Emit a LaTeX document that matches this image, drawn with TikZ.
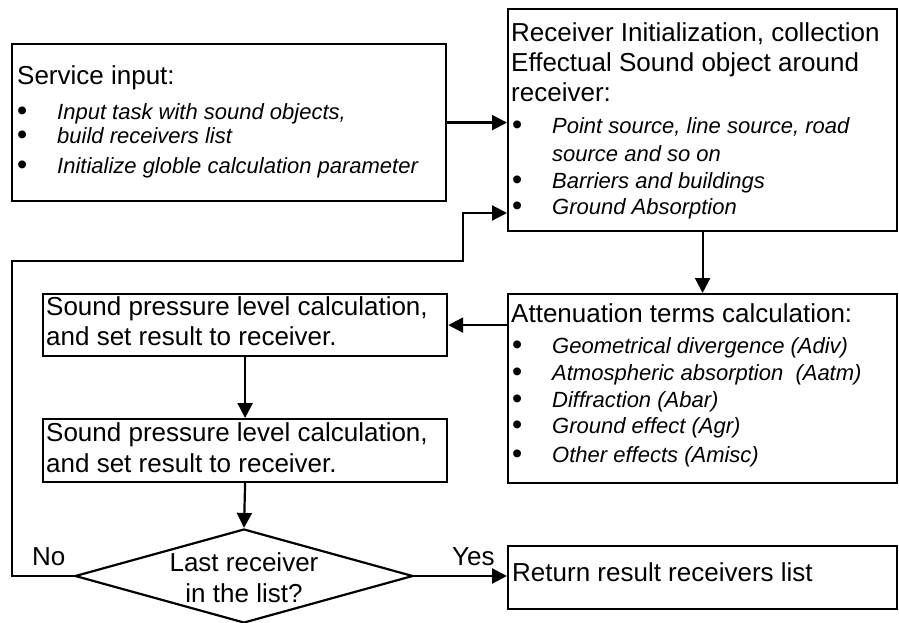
\documentclass[tikz,border=0pt]{standalone}
\usepackage{fontspec}
\setmainfont{Liberation Sans}
\usetikzlibrary{arrows.meta,shapes.geometric}

% bullet followed by a hanging indent for the item text
\newcommand\bul{\makebox[40pt][l]{\upshape\fontsize{29}{29}\selectfont\smash{\raisebox{-1pt}{\textbullet}}}}

\tikzset{
  box/.style={draw, line width=2.2pt, inner sep=0pt, anchor=north west},
  hd/.style={anchor=base west, inner sep=0pt, font=\fontsize{26}{30}\selectfont},
  it/.style={anchor=base west, inner sep=0pt, font=\fontsize{22}{26}\selectfont\itshape},
  lbl/.style={anchor=base west, inner sep=0pt, font=\fontsize{26}{30}\selectfont},
  decision/.style={diamond, draw, line width=2.2pt, inner sep=0pt,
    shape aspect=3.6, minimum width=338pt, minimum height=94pt},
  dtext/.style={anchor=base, inner sep=0pt, font=\fontsize{26}{30}\selectfont},
  arr/.style={line width=2.2pt, -{Triangle[length=15pt,width=15pt]}},
}

\begin{document}
\begin{tikzpicture}[x=1pt, y=-1pt]
\useasboundingbox (0,0) rectangle (899,623);

% ---- boxes ----
\node[box, minimum width=434pt, minimum height=157pt] (svc) at (11,43) {};
\node[box, minimum width=389pt, minimum height=222pt] (rcv) at (507,8) {};
\node[box, minimum width=389pt, minimum height=189pt] (att) at (507,293) {};
\node[box, minimum width=404pt, minimum height=62pt] (spl1) at (42,293) {};
\node[box, minimum width=404pt, minimum height=63pt] (spl2) at (42,418) {};
\node[box, minimum width=389pt, minimum height=63pt] (ret) at (507,545) {};
\node[decision] (dia) at (244,576) {};

% ---- service input ----
\node[hd] (svc-t) at (17,85) {Service input:};
\node[it] (svc-a) at (17,120) {\bul Input task with sound objects,};
\node[it] (svc-b) at (17,143) {\bul build receivers list};
\node[it] (svc-c) at (17,173) {\bul Initialize globle calculation parameter};

% ---- receiver initialization ----
\node[hd] (rcv-t1) at (511,42) {Receiver Initialization, collection};
\node[hd] (rcv-t2) at (511,72) {Effectual Sound object around};
\node[hd] (rcv-t3) at (511,102) {receiver:};
\node[it] (rcv-a) at (512,134) {\bul Point source, line source, road};
\node[it] (rcv-a2) at (552,161) {source and so on};
\node[it] (rcv-b) at (512,188) {\bul Barriers and buildings};
\node[it] (rcv-c) at (512,214) {\bul Ground Absorption};

% ---- attenuation terms ----
\node[hd] (att-t) at (511,322) {Attenuation terms calculation:};
\node[it] (att-a) at (512,353) {\bul Geometrical divergence (Adiv)};
\node[it] (att-b) at (512,380) {\bul Atmospheric absorption\ \ (Aatm)};
\node[it] (att-c) at (512,407) {\bul Diffraction (Abar)};
\node[it] (att-d) at (512,433) {\bul Ground effect (Agr)};
\node[it] (att-e) at (512,462) {\bul Other effects (Amisc)};

% ---- sound pressure level ----
\node[hd] (spl1-t1) at (46,315) {Sound pressure level calculation,};
\node[hd] (spl1-t2) at (46,345) {and set result to receiver.};
\node[hd] (spl2-t1) at (46,441) {Sound pressure level calculation,};
\node[hd] (spl2-t2) at (46,472) {and set result to receiver.};

% ---- decision text ----
\node[dtext] (dia-t1) at (244,571) {Last receiver};
\node[dtext] (dia-t2) at (244,602) {in the list?};

% ---- result ----
\node[hd] (ret-t) at (512,581) {Return result receivers list};

% ---- branch labels ----
\node[lbl] (no) at (32,565) {No};
\node[lbl] (yes) at (452,565) {Yes};

% ---- connectors ----
\coordinate (loopL) at (12,261);
\coordinate (loopR) at (463,213);
\draw[arr] (svc.east) -- (svc.east -| rcv.west);
\draw[arr] (dia.west) -| (loopL) -| (loopR) -- (loopR -| rcv.west);
\draw[arr] (rcv.south) -- (att.north);
\draw[arr] (spl1.east -| att.west) -- (spl1.east);
\draw[arr] (spl1.south) -- (spl2.north);
\draw[arr] (spl2.south) -- (dia.north);
\draw[arr] (dia.east) -- (dia.east -| ret.west);
\end{tikzpicture}
\end{document}
